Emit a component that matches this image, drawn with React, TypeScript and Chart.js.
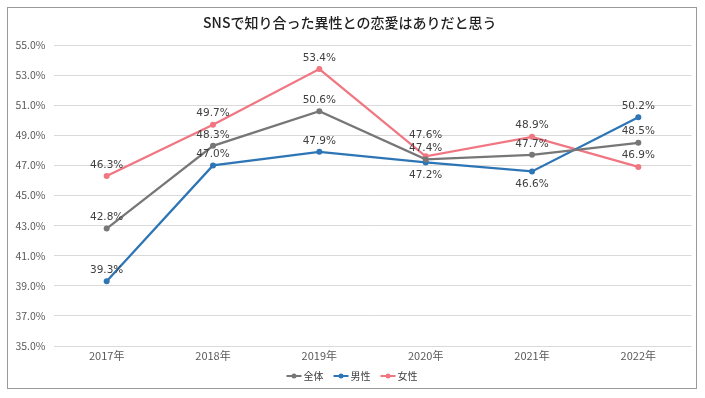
import React, { useEffect, useRef } from "react";
import { Chart, registerables } from "chart.js";

Chart.register(...registerables);

const chartTitle = "SNSで知り合った異性との恋愛はありだと思う";
const categories = ["2017年", "2018年", "2019年", "2020年", "2021年", "2022年"];
const seriesNames = ["全体", "男性", "女性"];
const totalValues = [42.8, 48.3, 50.6, 47.4, 47.7, 48.5];
const maleValues = [39.3, 47.0, 47.9, 47.2, 46.6, 50.2];
const femaleValues = [46.3, 49.7, 53.4, 47.6, 48.9, 46.9];
const yMin = 35;
const yMax = 55;
const yStep = 2;

const colors = ["#777777", "#2e75b6", "#f07682"];
// label offsets (px) from each point: negative = above, positive = below
const labelOffsets = [
  [-11, -11, -11, -11, -11, -12],
  [-11, -11, -11, 13, 13, -11],
  [-11, -11, -11, -21, -12, -12],
];

const CJK = "'Noto Sans CJK JP', 'Noto Sans', sans-serif";

const dataLabelPlugin = {
  id: "dataLabels",
  afterDatasetsDraw(chart: any) {
    const ctx = chart.ctx;
    ctx.save();
    ctx.font = "10.5px 'DejaVu Sans', sans-serif";
    ctx.fillStyle = "#404040";
    ctx.textAlign = "center";
    ctx.textBaseline = "middle";
    chart.data.datasets.forEach((ds: any, di: number) => {
      const meta = chart.getDatasetMeta(di);
      meta.data.forEach((pt: any, i: number) => {
        const v = ds.data[i] as number;
        ctx.fillText(v.toFixed(1) + "%", pt.x, pt.y + labelOffsets[di][i]);
      });
    });
    ctx.restore();
  },
};

const legendPlugin = {
  id: "customLegend",
  afterDraw(chart: any) {
    const ctx = chart.ctx;
    ctx.save();
    ctx.font = `10px ${CJK}`;
    ctx.textBaseline = "middle";
    const markerW = 15;
    const gapText = 2;
    const gapItem = 10;
    const widths = seriesNames.map((n) => markerW + gapText + ctx.measureText(n).width);
    const total = widths.reduce((a, b) => a + b, 0) + gapItem * (seriesNames.length - 1);
    let x = chart.width / 2 - total / 2;
    const y = 368;
    seriesNames.forEach((n, i) => {
      ctx.strokeStyle = colors[i];
      ctx.fillStyle = colors[i];
      ctx.lineWidth = 2;
      ctx.beginPath();
      ctx.moveTo(x, y);
      ctx.lineTo(x + markerW, y);
      ctx.stroke();
      ctx.beginPath();
      ctx.arc(x + markerW / 2, y, 2.5, 0, Math.PI * 2);
      ctx.fill();
      ctx.fillStyle = "#404040";
      ctx.textAlign = "left";
      ctx.fillText(n, x + markerW + gapText, y);
      x += widths[i] + gapItem;
    });
    ctx.restore();
  },
};

export default function App() {
  const ref = useRef<HTMLCanvasElement | null>(null);
  useEffect(() => {
    if (!ref.current) return;
    const seriesValues = [totalValues, maleValues, femaleValues];
    const chart = new Chart(ref.current, {
      type: "line",
      data: {
        labels: categories,
        datasets: seriesNames.map((name, i) => ({
          label: name,
          data: seriesValues[i],
          borderColor: colors[i],
          backgroundColor: colors[i],
          borderWidth: 2.25,
          pointRadius: 3,
          pointBorderWidth: 0,
          pointBackgroundColor: colors[i],
          tension: 0,
          fill: false,
        })),
      },
      options: {
        animation: false,
        responsive: false,
        maintainAspectRatio: false,
        layout: { padding: { top: 0, left: 0, right: 4.5, bottom: 0 } },
        plugins: {
          legend: { display: false },
          tooltip: { enabled: false },
          title: {
            display: true,
            text: chartTitle,
            color: "#1f1f1f",
            font: { family: CJK, size: 14, weight: "500" as any, lineHeight: 1.2 },
            padding: { top: 6, bottom: 14.2 },
          },
        },
        scales: {
          x: {
            offset: true,
            grid: { display: false, drawTicks: false },
            border: { display: false },
            ticks: {
              color: "#595959",
              font: { family: CJK, size: 11 },
              padding: 3,
              maxRotation: 0,
            },
            afterFit(scale: any) {
              scale.height = 42;
            },
          },
          y: {
            min: yMin,
            max: yMax,
            grid: { color: "#d9d9d9", lineWidth: 1, drawTicks: false },
            border: { display: false },
            ticks: {
              stepSize: yStep,
              color: "#595959",
              font: { family: CJK, size: 10.5 },
              padding: 8,
              callback: (v: any) => Number(v).toFixed(1) + "%",
            },
            afterFit(scale: any) {
              scale.width = 45.5;
            },
          },
        },
      },
      plugins: [dataLabelPlugin, legendPlugin],
    });
    return () => chart.destroy();
  }, []);

  return (
    <div
      style={{
        position: "absolute",
        left: 7,
        top: 7,
        width: 690,
        height: 382,
        boxSizing: "border-box",
        border: "1px solid #9a9a9a",
        background: "#fff",
      }}
    >
      <canvas ref={ref} width={688} height={380} style={{ display: "block", width: 688, height: 380 }} />
    </div>
  );
}
